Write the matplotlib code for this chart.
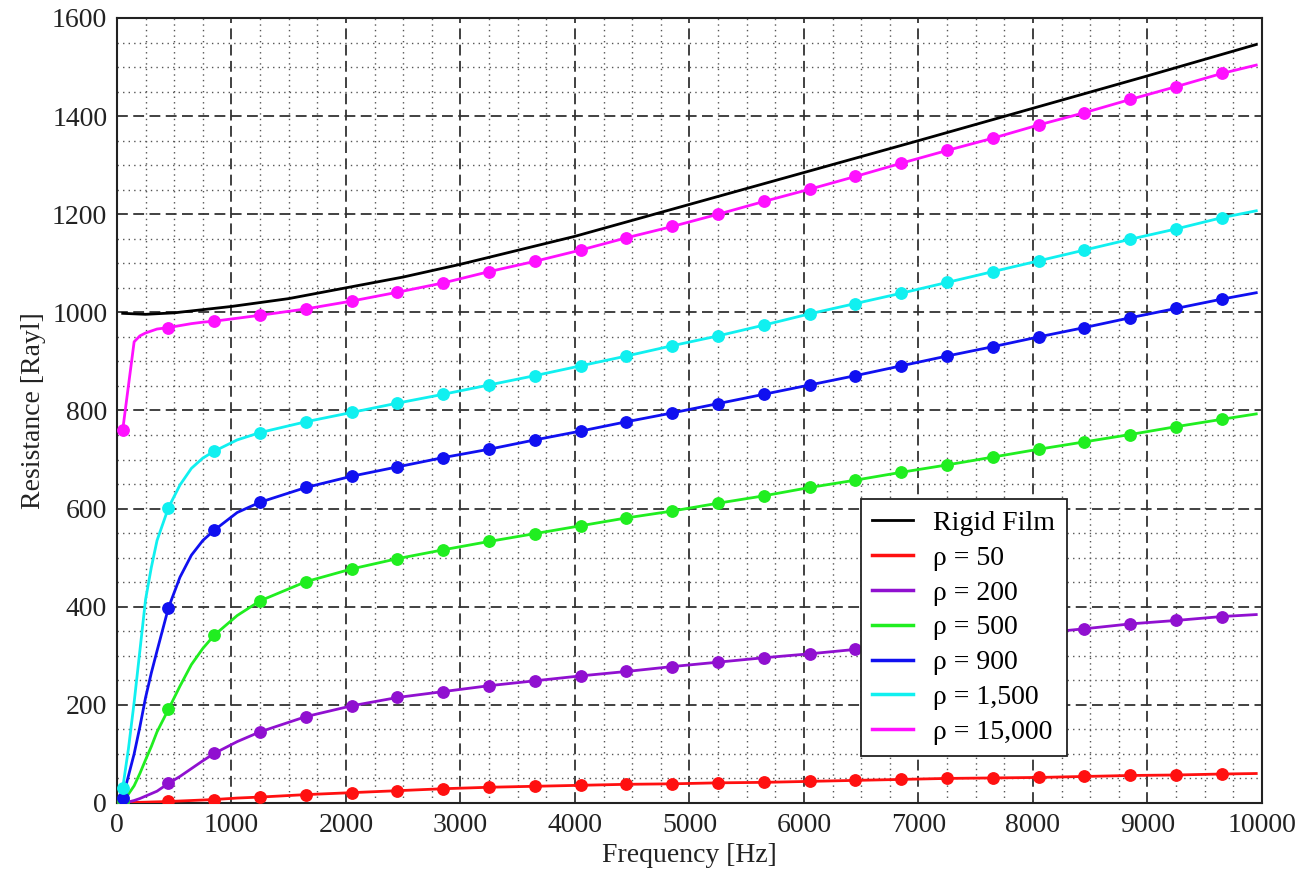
import matplotlib
matplotlib.use("Agg")
import matplotlib.pyplot as plt
from matplotlib.lines import Line2D
from matplotlib.ticker import MultipleLocator

plt.rcParams['font.family'] = ['Liberation Serif', 'DejaVu Serif']

# frequency grid of the computed curves (Hz)
freq = [50, 100, 150, 200, 250, 300, 350, 450, 550, 650, 750, 850, 1050, 1250,
        1650, 2050, 2450, 2850, 3250, 3650, 4050, 4450, 4850, 5250, 5650, 6050,
        6450, 6850, 7250, 7650, 8050, 8450, 8850, 9250, 9650, 9950]
# frequencies that carry a marker
marker_freq = [50, 450, 850, 1250, 1650, 2050, 2450, 2850, 3250, 3650, 4050,
               4450, 4850, 5250, 5650, 6050, 6450, 6850, 7250, 7650, 8050,
               8450, 8850, 9250, 9650]

# rigid film reference
rigid_freq = [50, 250, 500, 1000, 1500, 2000, 2500, 3000, 4000, 5000, 6000,
              7000, 8000, 9000, 9950]
rigid_res = [998, 996, 999, 1012, 1028, 1050, 1072, 1098, 1155, 1220, 1285,
             1350, 1416, 1482, 1546]

# resistance [Rayl] for each density
res_50 = [0, 0.5, 1, 1.3, 1.6, 2, 2.3, 3, 4, 5, 6, 7, 10, 12, 17, 21, 25, 29,
          32, 34, 36, 38, 39, 41, 42, 44, 46, 48, 50, 51, 52, 54, 56, 57, 59, 60]
res_200 = [0, 2, 5, 9, 14, 19, 24, 40, 54, 70, 86, 101, 125, 145, 176, 198,
           215, 227, 239, 249, 259, 268, 278, 287, 296, 304, 313, 321, 330, 338,
           346, 355, 365, 372, 380, 384]
res_500 = [4, 18, 35, 60, 88, 115, 145, 191, 238, 282, 315, 342, 382, 412, 451,
           477, 498, 516, 533, 549, 565, 581, 595, 611, 626, 643, 658, 674, 689,
           705, 721, 736, 751, 767, 782, 793]
res_900 = [10, 55, 100, 155, 215, 265, 310, 398, 460, 505, 535, 556, 592, 613,
           643, 666, 685, 704, 721, 740, 758, 777, 795, 814, 833, 852, 871, 891,
           911, 930, 950, 969, 989, 1008, 1027, 1040]
res_1500 = [30, 110, 205, 310, 415, 480, 535, 602, 648, 682, 703, 717, 740, 755,
            777, 796, 815, 833, 852, 871, 891, 911, 932, 952, 974, 997, 1018,
            1039, 1061, 1083, 1105, 1127, 1149, 1170, 1193, 1207]
res_15000 = [760, 850, 940, 952, 958, 962, 966, 969, 973, 977, 980, 982, 988,
             994, 1007, 1023, 1041, 1060, 1083, 1104, 1127, 1152, 1175, 1200,
             1226, 1251, 1277, 1304, 1330, 1355, 1382, 1407, 1434, 1460, 1487,
             1504]

labels = ['\u03c1 = 50', '\u03c1 = 200', '\u03c1 = 500', '\u03c1 = 900',
          '\u03c1 = 1,500', '\u03c1 = 15,000']
colors = ['#ff1010', '#9010d0', '#20ee20', '#1010f0', '#10f0f0', '#ff10ff']
series = [res_50, res_200, res_500, res_900, res_1500, res_15000]

mark_idx = [freq.index(f) for f in marker_freq]

fig = plt.figure(figsize=(13.01, 8.69), dpi=100)
ax = fig.add_axes([0.0899, 0.0760, 0.8801, 0.9033])

ax.plot(rigid_freq, rigid_res, color='black', lw=2.0, zorder=3)
for y, c in zip(series, colors):
    ax.plot(freq, y, color=c, lw=2.0, marker='o', markersize=8.2,
            markevery=mark_idx, zorder=3)

ax.set_xlim(0, 10000)
ax.set_ylim(0, 1600)
ax.xaxis.set_major_locator(MultipleLocator(1000))
ax.xaxis.set_minor_locator(MultipleLocator(250))
ax.yaxis.set_major_locator(MultipleLocator(200))
ax.yaxis.set_minor_locator(MultipleLocator(50))

ax.grid(which='major', color='#333333', lw=1.3, linestyle=(0, (6, 3)))
ax.grid(which='minor', color='#555555', lw=1.0, linestyle=(0, (1, 3)))
ax.set_axisbelow(True)

ax.tick_params(which='both', length=0, labelsize=20, pad=7, colors='#222222')
for sp in ax.spines.values():
    sp.set_linewidth(1.5)
    sp.set_color('#222222')

ax.set_xlabel('Frequency [Hz]', fontsize=20, labelpad=4, color='#222222')
ax.set_ylabel('Resistance [Rayl]', fontsize=20, labelpad=4, color='#222222')

# legend shows plain line samples only
handles = [Line2D([], [], color='black', lw=2.0)]
handles += [Line2D([], [], color=c, lw=2.5) for c in colors]
leg = ax.legend(handles, ['Rigid Film'] + labels, loc='upper left',
                bbox_to_anchor=(0.650, 0.387), fontsize=20,
                frameon=True, fancybox=False, edgecolor='#222222',
                framealpha=1.0, handlelength=1.45, handletextpad=0.75,
                borderpad=0.4, labelspacing=0.34, borderaxespad=0)
leg.get_frame().set_linewidth(1.3)
leg.set_zorder(5)

fig.savefig('out.png', dpi=100)
